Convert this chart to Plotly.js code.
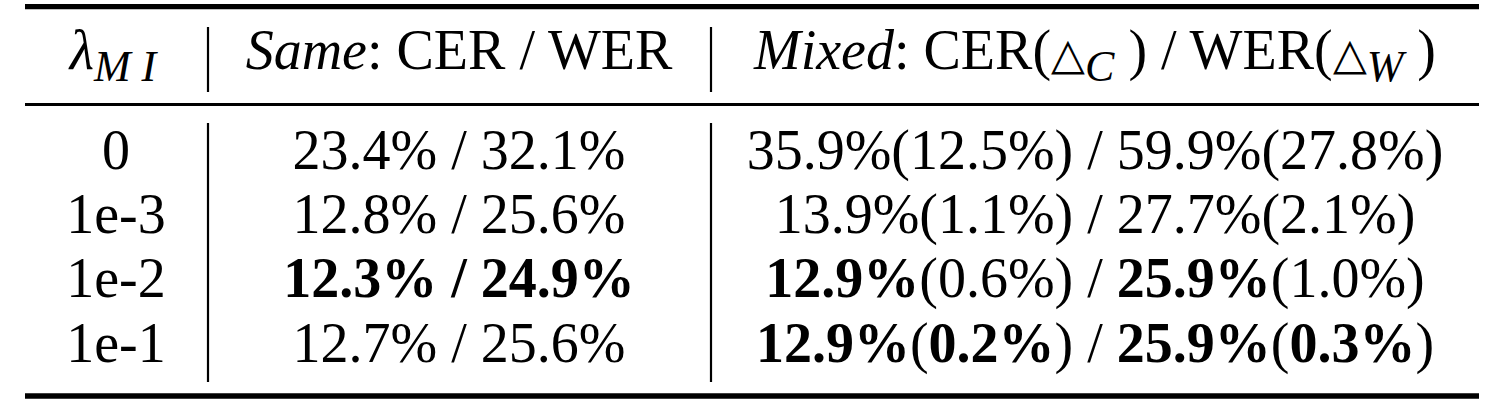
<!DOCTYPE html>
<html>
<head>
<meta charset="utf-8">
<script src="https://cdn.plot.ly/plotly-3.0.1.min.js"></script>
<style>html,body{margin:0;padding:0;background:#fff;}#chart{width:1485px;height:410px;}</style>
</head>
<body>
<div id="chart"></div>
<script>
// ---- data ----
var lambdas     = ["0", "1e-3", "1e-2", "1e-1"];
var sameCER     = [23.4, 12.8, 12.3, 12.7];
var sameWER     = [32.1, 25.6, 24.9, 25.6];
var mixedCER    = [35.9, 13.9, 12.9, 12.9];
var mixedDeltaC = [12.5, 1.1, 0.6, 0.2];
var mixedWER    = [59.9, 27.7, 25.9, 25.9];
var mixedDeltaW = [27.8, 2.1, 1.0, 0.3];
var headers = [
  "<i>λ</i><sub><span style=\"font-size:44px\"><i>M I</i></span></sub>",
  "<i>Same</i>: CER / WER",
  "<i>Mixed</i>: CER(<span style=\"font-size:44px\">△</span><sub><span style=\"font-size:44px\"><i>C</i></span></sub> ) / WER(<span style=\"font-size:44px\">△</span><sub><span style=\"font-size:44px\"><i>W</i></span></sub> )"
];

// ---- layout constants (pixel-space axes) ----
var W = 1485, H = 410;
var colX = [113, 459, 1095];
var labelX = 116;
var headerY = 55;
var firstRowY = 154.5, rowPitch = 64.4;
var FONT = "Liberation Serif";
var FS = 56;

function pct(v) { return v.toFixed(1) + "%"; }
function minOf(a) { return Math.min.apply(null, a); }
function b(s, on) { return on ? "<b>" + s + "</b>" : s; }

var mSC = minOf(sameCER), mSW = minOf(sameWER);
var mMC = minOf(mixedCER), mDC = minOf(mixedDeltaC), mMW = minOf(mixedWER), mDW = minOf(mixedDeltaW);

var sameText = sameCER.map(function (c, i) {
  var bc = c === mSC, bw = sameWER[i] === mSW;
  if (bc && bw) return "<b>" + pct(c) + " / " + pct(sameWER[i]) + "</b>";
  return b(pct(c), bc) + " / " + b(pct(sameWER[i]), bw);
});
var mixedText = mixedCER.map(function (c, i) {
  return b(pct(c), c === mMC) + "(" + b(pct(mixedDeltaC[i]), mixedDeltaC[i] === mDC) + ") / " +
         b(pct(mixedWER[i]), mixedWER[i] === mMW) + "(" + b(pct(mixedDeltaW[i]), mixedDeltaW[i] === mDW) + ")";
});

var rowY = lambdas.map(function (_, i) { return firstRowY + i * rowPitch; });

function textTrace(xs, ys, texts) {
  return {
    type: "scatter", mode: "text", x: xs, y: ys, text: texts,
    textposition: "middle center",
    textfont: { family: FONT, size: FS, color: "#000" },
    hoverinfo: "skip", showlegend: false, cliponaxis: false
  };
}

var traces = [
  textTrace(colX, [headerY, headerY, headerY], headers),
  textTrace(rowY.map(function () { return labelX; }), rowY, lambdas),
  textTrace(rowY.map(function () { return colX[1]; }), rowY, sameText),
  textTrace(rowY.map(function () { return colX[2]; }), rowY, mixedText)
];

var ruleL = 25, ruleR = 1479;
var vX = [208, 711];
function hline(y, w) {
  return { type: "line", xref: "x", yref: "y", x0: ruleL, x1: ruleR, y0: y, y1: y, line: { color: "#000", width: w } };
}
function vline(x, y0, y1) {
  return { type: "line", xref: "x", yref: "y", x0: x, x1: x, y0: y0, y1: y1, line: { color: "#000", width: 2.2 } };
}
var shapes = [
  hline(6.7, 5.3), hline(104.5, 3), hline(396, 5.5)
];
vX.forEach(function (x) {
  shapes.push(vline(x, 27, 92));
  shapes.push(vline(x, 123, 382));
});

var layout = {
  width: W, height: H,
  margin: { l: 0, r: 0, t: 0, b: 0, pad: 0 },
  paper_bgcolor: "#fff", plot_bgcolor: "#fff",
  xaxis: { range: [0, W], visible: false, fixedrange: true },
  yaxis: { range: [H, 0], visible: false, fixedrange: true },
  shapes: shapes,
  showlegend: false
};

Plotly.newPlot("chart", traces, layout, { displayModeBar: false, staticPlot: true });
</script>
</body>
</html>
